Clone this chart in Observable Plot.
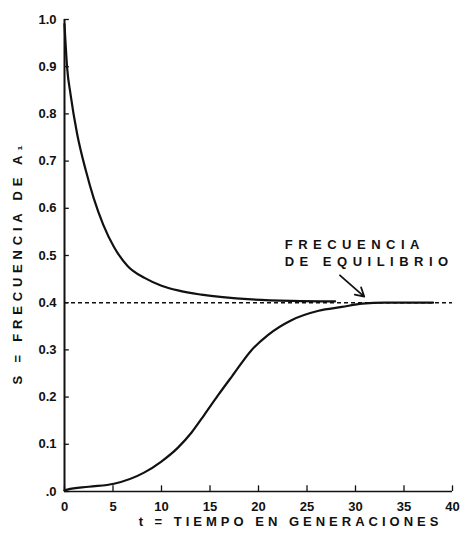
<!DOCTYPE html>
<html>
<head>
<meta charset="utf-8">
<script src="https://cdn.jsdelivr.net/npm/d3@7"></script>
<script src="https://cdn.jsdelivr.net/npm/@observablehq/plot@0.6"></script>
<style>
  html, body { margin: 0; padding: 0; background: #fff; }
  svg text { font-family: "Liberation Sans", Arial, sans-serif; font-weight: bold; }
</style>
</head>
<body>
<div id="chart"></div>
<script>
// ---- data ----
const tUpper = [0, 0.28, 0.62, 1.3, 2.2, 3.0, 4.0, 5.1, 6.5, 8.3, 10.0, 11.7, 14.1, 19.3, 23.5, 27.9];
const sUpper = [0.99, 0.896, 0.842, 0.758, 0.68, 0.622, 0.565, 0.518, 0.478, 0.452, 0.436, 0.426, 0.417, 0.407, 0.404, 0.403];

const tLower = [0, 0.3, 2.5, 5.1, 8.2, 9.95, 11.7, 13.1, 14.4, 15.8, 17.3, 19.3, 21.0, 23.4, 26.2, 28.6, 30.7, 33, 38];
const sLower = [0.002, 0.004, 0.01, 0.0164, 0.04, 0.063, 0.093, 0.125, 0.162, 0.203, 0.245, 0.30, 0.332, 0.363, 0.383, 0.391, 0.398, 0.4, 0.4];

const equilibrium = [0.4];

const xTicks = [0, 5, 10, 15, 20, 25, 30, 35, 40];
const yTicks = [0, 0.1, 0.2, 0.3, 0.4, 0.5, 0.6, 0.7, 0.8, 0.9, 1.0];
const yTickLabels = [".0", "0.1", "0.2", "0.3", "0.4", "0.5", "0.6", "0.7", "0.8", "0.9", "1.0"];

const noteText = ["FRECUENCIA\nDE EQUILIBRIO"];
const noteX = [22.7];
const noteY = [0.507];

const arrowX1 = [28.4], arrowY1 = [0.458], arrowX2 = [30.9], arrowY2 = [0.413];

const xLabel = "t = TIEMPO EN GENERACIONES";
const yLabel = "S = FRECUENCIA DE A\u2081";

// ---- build tables ----
const upper = tUpper.map((t, i) => ({t, s: sUpper[i]}));
const lower = tLower.map((t, i) => ({t, s: sLower[i]}));
const note = noteText.map((text, i) => ({text, x: noteX[i], y: noteY[i]}));
const arrows = arrowX1.map((x1, i) => ({x1, y1: arrowY1[i], x2: arrowX2[i], y2: arrowY2[i]}));

const ink = "#111";

const chart = Plot.plot({
  width: 463,
  height: 535,
  marginLeft: 64,
  marginRight: 11,
  marginTop: 19,
  marginBottom: 44,
  style: {background: "#fff", color: ink, fontSize: "13px"},
  x: {domain: [0, 40]},
  y: {domain: [0, 1]},
  marks: [
    Plot.axisX({ticks: xTicks, tickSize: 0, tickPadding: 10, label: null, fontSize: 13, fontWeight: "bold"}),
    Plot.axisY({ticks: yTicks, tickSize: 0, tickPadding: 8, label: null, fontSize: 13, fontWeight: "bold",
                tickFormat: (d) => yTickLabels[yTicks.indexOf(d)]}),
    // inward ticks
    Plot.ruleX(xTicks, {x: d => d, y1: 0, y2: 0.012, stroke: ink, strokeWidth: 1.3}),
    Plot.ruleY(yTicks, {y: d => d, x1: 0, x2: 0.5, stroke: ink, strokeWidth: 1.3}),
    // axis lines
    Plot.ruleX([0], {y1: 0, y2: 1, stroke: ink, strokeWidth: 2}),
    Plot.ruleY([0], {x1: 0, x2: 40, stroke: ink, strokeWidth: 1.6}),
    // equilibrium dashed line
    Plot.ruleY(equilibrium, {x1: 0, x2: 40, stroke: ink, strokeWidth: 1.5, strokeDasharray: "4,3"}),
    // curves
    Plot.line(upper, {x: "t", y: "s", stroke: ink, strokeWidth: 2.2, curve: "monotone-x"}),
    Plot.line(lower, {x: "t", y: "s", stroke: ink, strokeWidth: 2.2, curve: "monotone-x"}),
    // annotation
    Plot.text(note, {x: "x", y: "y", text: "text", textAnchor: "start", lineAnchor: "middle",
                     lineHeight: 1.3, fontSize: 13, fontWeight: "bold", fill: ink}),
    Plot.arrow(arrows, {x1: "x1", y1: "y1", x2: "x2", y2: "y2", stroke: ink, strokeWidth: 1.8, headLength: 8}),
    // axis titles
    Plot.text([xLabel], {frameAnchor: "bottom", textAnchor: "middle", dx: 32, dy: 30, lineAnchor: "middle",
                         fontSize: 13, fontWeight: "bold", fill: ink}),
    Plot.text([yLabel], {frameAnchor: "left", rotate: -90, textAnchor: "middle", dx: -47, dy: 7,
                         lineAnchor: "middle", fontSize: 13, fontWeight: "bold", fill: ink})
  ]
});

document.getElementById("chart").appendChild(chart);

// letter spacing like the original lettering
const spacing = (needle, px) =>
  d3.select(chart).selectAll("text")
    .filter(function() { return this.textContent.includes(needle); })
    .attr("letter-spacing", px);
spacing("EQUILIBRIO", "5.5px");
spacing("TIEMPO", "4px");
spacing("FRECUENCIA DE A", "4.8px");
</script>
</body>
</html>
